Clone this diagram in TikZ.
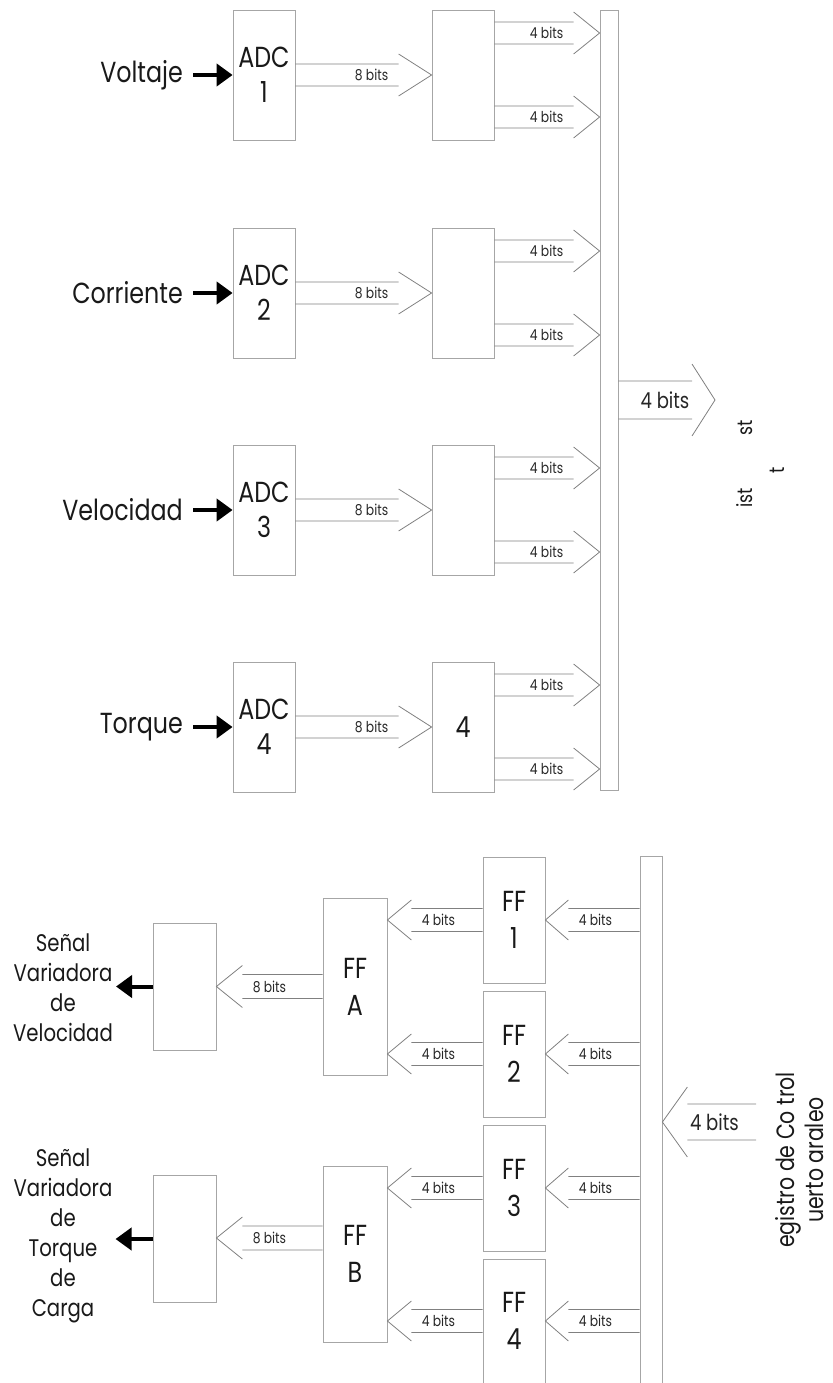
\documentclass[tikz,border=0pt]{standalone}
\usepackage{fontspec}
\newfontfamily\gfont{Poppins}[FakeStretch=0.82]
\usetikzlibrary{arrows.meta,calc}
\newcommand{\fBig}{\gfont\fontsize{29}{35}\selectfont}
\newcommand{\fFF}{\gfont\fontsize{29}{37}\selectfont}
\newcommand{\fOut}{\gfont\fontsize{24}{30}\selectfont}
\newcommand{\fRot}{\gfont\fontsize{25}{29}\selectfont}
\newcommand{\fSmall}{\gfont\fontsize{15}{18}\selectfont}
\newcommand{\fMid}{\gfont\fontsize{22}{26}\selectfont}
\newcommand{\fFrag}{\gfont\fontsize{21}{24}\selectfont}
% tail, tip, body half width, head half width, head length, label, font
\newcommand{\fatarrow}[7]{%
  \draw[fat] let \p1=(#1), \p2=(#2), \n1={ifthenelse(\x2>\x1,1,-1)} in
    (\x1,{\y1+#3pt}) -- ({\x2-\n1*#5pt},{\y1+#3pt})
    (\x1,{\y1-#3pt}) -- ({\x2-\n1*#5pt},{\y1-#3pt})
    ({\x2-\n1*#5pt},{\y1+#4pt}) -- (\x2,\y1) -- ({\x2-\n1*#5pt},{\y1-#4pt})
    ({\x2-\n1*(#5+27)*1pt},\y1) node[font=#7,text=black!85,inner sep=0pt]{#6};%
}
\begin{document}
\begin{tikzpicture}[x=1pt,y=-1pt,
  box/.style={draw=black!35,line width=0.8pt,inner sep=0pt,align=center,text=black!90},
  fat/.style={draw=black!50,line width=0.8pt},
  blk/.style={line width=4pt,-{Triangle[length=16pt,width=22pt]}},
  lab/.style={font=\fBig,inner sep=0pt,text=black!90},
  olab/.style={font=\fOut,align=center,inner sep=0pt,text=black!90},
  frag/.style={font=\fFrag,inner sep=0pt,text=black!90}]
\useasboundingbox (0,0) rectangle (832,1383);

% ---------------- upper part ----------------
\node[box,minimum width=62pt,minimum height=130pt,font=\fBig] (adc1) at (264,75) {ADC\\1};
\node[box,minimum width=62pt,minimum height=130pt,font=\fBig] (adc2) at (264,293) {ADC\\2};
\node[box,minimum width=62pt,minimum height=130pt,font=\fBig] (adc3) at (264,510) {ADC\\3};
\node[box,minimum width=62pt,minimum height=130pt,font=\fBig] (adc4) at (264,727) {ADC\\4};
\node[box,minimum width=62pt,minimum height=130pt] (spl1) at (463,75) {};
\node[box,minimum width=62pt,minimum height=130pt] (spl2) at (463,293) {};
\node[box,minimum width=62pt,minimum height=130pt] (spl3) at (463,510) {};
\node[box,minimum width=62pt,minimum height=130pt,font=\fBig] (spl4) at (463,727) {4};
\node[box,minimum width=18pt,minimum height=780pt] (reg1) at (609,400) {};

\node[lab,anchor=east] (in1) at (183,75) {Voltaje};
\node[lab,anchor=east] (in2) at (183,293) {Corriente};
\node[lab,anchor=east] (in3) at (183,510) {Velocidad};
\node[lab,anchor=east] (in4) at (183,727) {Torque};
\foreach \i in {1,...,4}{
  \draw[blk] ([xshift=10pt]in\i.east) -- (in\i.east -| adc\i.west);
  \fatarrow{adc\i.east}{spl\i.west}{11}{21}{33}{8 bits}{\fSmall}
  \coordinate (s\i a) at ($(spl\i.east)+(0,-42)$);
  \coordinate (s\i b) at ($(spl\i.east)+(0,42)$);
  \fatarrow{s\i a}{reg1.west |- s\i a}{11}{21}{26}{4 bits}{\fSmall}
  \fatarrow{s\i b}{reg1.west |- s\i b}{11}{21}{26}{4 bits}{\fSmall}
}
\coordinate (bigR) at (715,400);
\fatarrow{reg1.east}{bigR}{19}{36}{23}{4 bits}{\fMid}
\node[frag,rotate=90] (fr1) at (745,428) {st};
\node[frag,rotate=90] (fr2) at (745,498) {ist};
\node[frag,rotate=90] (fr3) at (777,470) {t};

% ---------------- lower part ----------------
\node[box,minimum width=63pt,minimum height=127pt] (outA) at (184.5,986.5) {};
\node[box,minimum width=63pt,minimum height=127pt] (outB) at (184.5,1239) {};
\node[box,minimum width=64pt,minimum height=177pt,font=\fFF] (ffA) at (355,986.5) {FF\\A};
\node[box,minimum width=64pt,minimum height=176pt,font=\fFF] (ffB) at (355,1254) {FF\\B};
\node[box,minimum width=62pt,minimum height=126pt,font=\fFF] (ff1) at (514,920) {FF\\1};
\node[box,minimum width=62pt,minimum height=126pt,font=\fFF] (ff2) at (514,1054) {FF\\2};
\node[box,minimum width=62pt,minimum height=126pt,font=\fFF] (ff3) at (514,1188) {FF\\3};
\node[box,minimum width=62pt,minimum height=124pt,font=\fFF] (ff4) at (514,1321) {FF\\4};
\node[box,minimum width=22pt,minimum height=530pt] (reg2) at (651,1121) {};

\fatarrow{ff1.west}{ffA.east |- ff1.west}{11.5}{20}{24}{4 bits}{\fSmall}
\fatarrow{ff2.west}{ffA.east |- ff2.west}{11.5}{20}{24}{4 bits}{\fSmall}
\fatarrow{ff3.west}{ffB.east |- ff3.west}{11.5}{20}{24}{4 bits}{\fSmall}
\fatarrow{ff4.west}{ffB.east |- ff4.west}{11.5}{20}{24}{4 bits}{\fSmall}
\foreach \i in {1,...,4}{
  \fatarrow{reg2.west |- ff\i.east}{ff\i.east}{11.5}{20}{23}{4 bits}{\fSmall}
}
\coordinate (bigL) at (756,1122);
\fatarrow{bigL}{reg2.east |- bigL}{18}{35}{25}{4 bits}{\fMid}
\fatarrow{ffA.west}{outA.east}{12}{21}{26}{8 bits}{\fSmall}
\coordinate (fbt) at ($(ffB.west)+(0,-16)$);
\fatarrow{fbt}{outB.east |- fbt}{12}{21}{26}{8 bits}{\fSmall}

\node[olab] (oa) at (63,988) {Señal\\Variadora\\de\\Velocidad};
\node[olab] (ob) at (63,1236) {Señal\\Variadora\\de\\Torque\\de\\Carga};
\draw[blk,shorten >=3pt] (outA.west) -- (oa.east |- outA.west);
\draw[blk,shorten >=3pt] (outB.west) -- (ob.east |- outB.west);

\node[font=\fRot,align=center,inner sep=0pt,text=black!90,rotate=90] (rt) at (800,1160) {egistro de Co trol\\uerto araleo};
\end{tikzpicture}
\end{document}
